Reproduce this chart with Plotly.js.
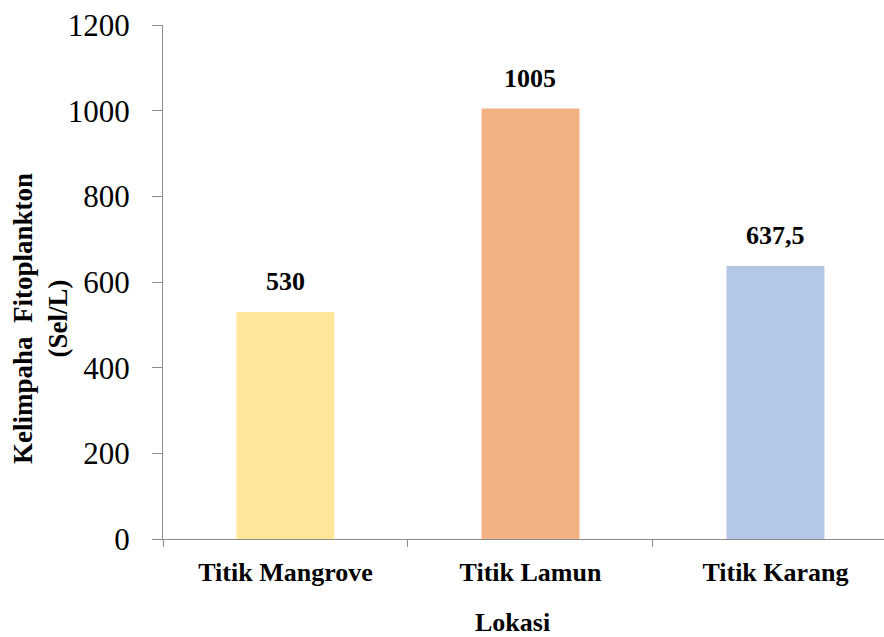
<!DOCTYPE html>
<html>
<head>
<meta charset="utf-8">
<script src="https://cdn.plot.ly/plotly-3.0.1.min.js"></script>
<style>html,body{margin:0;padding:0;background:#fff;}#chart{width:884px;height:637px;}</style>
</head>
<body>
<div id="chart"></div>
<script>
const categories = ["Titik Mangrove", "Titik Lamun", "Titik Karang"];
const values = [530, 1005, 637.5];
const valueLabels = ["530", "1005", "637,5"];
const barColors = ["#FFE699", "#F4B183", "#B4C7E7"];
const yTickVals = [0, 200, 400, 600, 800, 1000, 1200];

const serif = "Liberation Serif, Times New Roman, serif";

const trace = {
  type: "bar",
  x: categories,
  y: values,
  width: 0.4,
  marker: {color: barColors, line: {width: 0}},
  hoverinfo: "none"
};

const annotations = categories.map((c, i) => ({
  x: c, y: values[i], xref: "x", yref: "y",
  text: "<b>" + valueLabels[i] + "</b>",
  showarrow: false, yanchor: "bottom", yshift: 14,
  font: {family: serif, size: 26, color: "#000"}
}));

annotations.push({
  xref: "paper", yref: "paper", x: (512 - 163) / 721, y: (539 - 606) / 514,
  xanchor: "center", yanchor: "top",
  text: "<b>Lokasi</b>", showarrow: false,
  font: {family: serif, size: 26, color: "#000"}
});
annotations.push({
  xref: "paper", yref: "paper", x: (40 - 163) / 721, y: (539 - 319) / 514,
  xanchor: "center", yanchor: "middle", textangle: -90,
  text: "<b>Kelimpaha  Fitoplankton<br>(Sel/L)</b>", showarrow: false,
  font: {family: serif, size: 27, color: "#000"}
});

const layout = {
  width: 884, height: 637,
  margin: {l: 163, r: 0, t: 25, b: 98, pad: 0},
  paper_bgcolor: "#fff", plot_bgcolor: "#fff",
  showlegend: false,
  font: {family: serif, color: "#000"},
  xaxis: {
    type: "category",
    range: [-0.5, 2.443],
    tickson: "boundaries",
    ticks: "outside", ticklen: 7, tickcolor: "#8c8c8c", tickwidth: 1,
    showline: true, linecolor: "#8c8c8c", linewidth: 1,
    showgrid: false, zeroline: false,
    tickfont: {family: serif, size: 26, color: "#000", weight: "bold"},
    ticklabelstandoff: 10,
    fixedrange: true
  },
  yaxis: {
    range: [0, 1200],
    tickmode: "array", tickvals: yTickVals,
    ticks: "outside", ticklen: 10, tickcolor: "#8c8c8c", tickwidth: 1,
    showline: true, linecolor: "#8c8c8c", linewidth: 1,
    showgrid: false, zeroline: false,
    tickfont: {family: serif, size: 31, color: "#000"},
    ticklabelstandoff: 16,
    fixedrange: true
  },
  annotations: annotations
};

Plotly.newPlot("chart", [trace], layout, {displayModeBar: false, staticPlot: true});
</script>
</body>
</html>
